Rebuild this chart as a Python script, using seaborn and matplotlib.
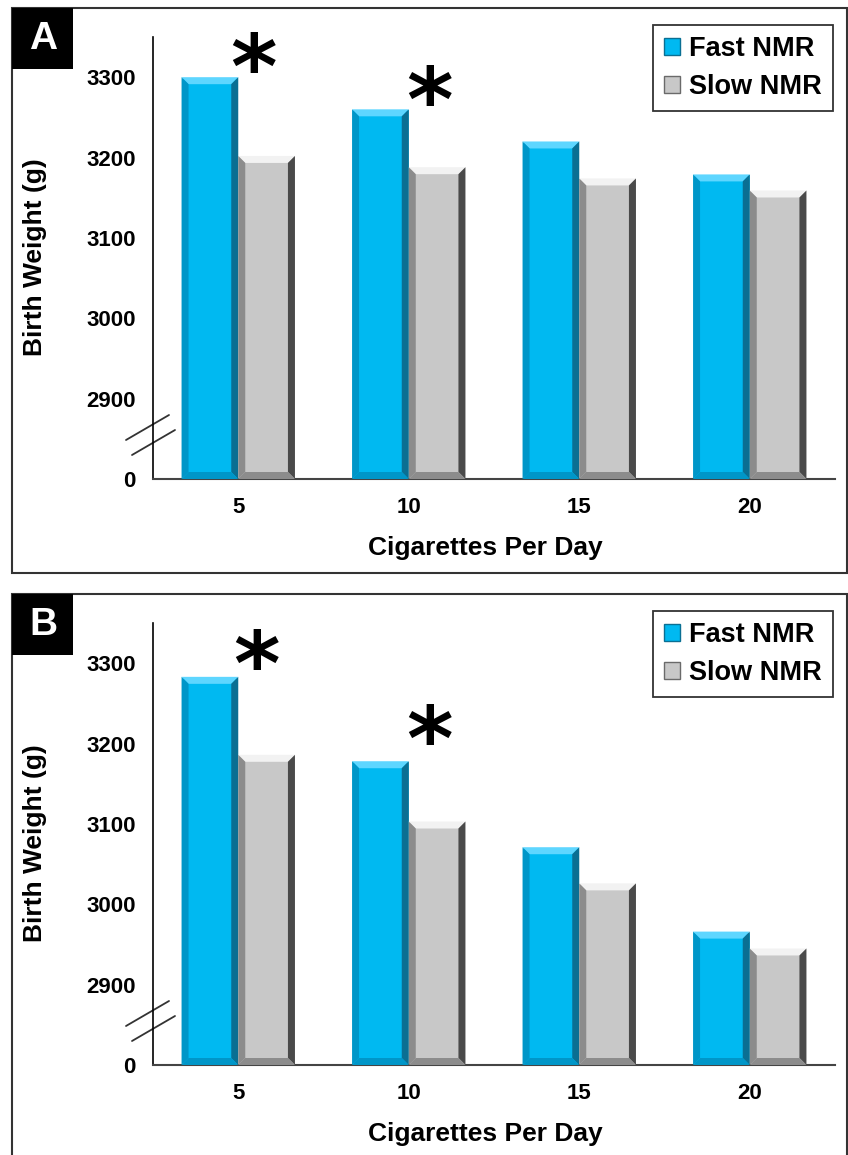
import pandas as pd
import matplotlib.pyplot as plt
import seaborn as sns
from matplotlib.patches import Polygon, Rectangle, Patch

# data (grams)
cigs = ['5', '10', '15', '20']
groups = ['Fast NMR', 'Slow NMR']
fast_a = [3300, 3260, 3220, 3179]
slow_a = [3202, 3188, 3174, 3159]
fast_b = [3283, 3178, 3071, 2966]
slow_b = [3186, 3103, 3026, 2945]
yticks = [2800, 2900, 3000, 3100, 3200, 3300]
ytick_labels = ['0', '2900', '3000', '3100', '3200', '3300']

blue = '#00B9F1'
gray = '#C8C8C8'
light = {blue: '#5ED6FF', gray: '#F2F2F2'}
dark = {blue: '#0A6F93', gray: '#4A4A4A'}
mid = {blue: '#0096C8', gray: '#8C8C8C'}

W, H = 848, 1155
sns.set_style('white')
plt.rcParams['font.family'] = ['Liberation Sans', 'DejaVu Sans']
plt.rcParams['font.weight'] = 'bold'
plt.rcParams['text.color'] = 'black'
plt.rcParams['xtick.color'] = 'black'
plt.rcParams['ytick.color'] = 'black'
plt.rcParams['axes.labelcolor'] = 'black'

fig = plt.figure(figsize=(W / 100, H / 100), dpi=100)


def make_df(fast, slow):
    rows = []
    for c, f, s in zip(cigs, fast, slow):
        rows.append({'cig': c, 'group': groups[0], 'w': f})
        rows.append({'cig': c, 'group': groups[1], 'w': s})
    return pd.DataFrame(rows)


def bevel(ax, b=7):
    # fake the bevelled 3d look of the original bars
    pos = ax.get_position()
    ux = 4.0 / (pos.width * W)
    uy = 550.0 / (pos.height * H)
    bx, by = b * ux, b * uy
    for cont, col in zip(ax.containers, [blue, gray]):
        for p in cont.patches:
            x0, x1 = p.get_x(), p.get_x() + p.get_width()
            y0 = max(p.get_y(), 2800)
            y1 = p.get_y() + p.get_height()
            shapes = [
                ([(x0, y1), (x1, y1), (x1 - bx, y1 - by), (x0 + bx, y1 - by)], light[col]),
                ([(x1, y1), (x1, y0), (x1 - bx, y0 + by), (x1 - bx, y1 - by)], dark[col]),
                ([(x0, y0), (x1, y0), (x1 - bx, y0 + by), (x0 + bx, y0 + by)], mid[col]),
                ([(x0, y0), (x0, y1), (x0 + bx, y1 - by), (x0 + bx, y0 + by)], mid[col]),
            ]
            for pts, c in shapes:
                ax.add_patch(Polygon(pts, closed=True, facecolor=c, edgecolor='none', zorder=3))


def panel(fast, slow, top_px, letter, stars):
    # axes placement in pixels: y axis at x=153, top of axis at top_px
    left, right = 153, 835
    bottom_px = top_px + 442
    ax = fig.add_axes([left / W, 1 - bottom_px / H, (right - left) / W, (bottom_px - top_px) / H])
    df = make_df(fast, slow)
    sns.barplot(data=df, x='cig', y='w', hue='group', order=cigs, hue_order=groups,
                palette=[blue, gray], width=0.665, errorbar=None, saturation=1,
                legend=False, ax=ax, zorder=2)
    ax.set_xlim(-0.5, 3.5)
    ax.set_ylim(2800, 3350)
    ax.set_yticks(yticks)
    ax.set_yticklabels(ytick_labels)
    ax.set_xlabel('')
    ax.set_ylabel('')
    bevel(ax)

    for s in ['top', 'right']:
        ax.spines[s].set_visible(False)
    ax.spines['left'].set_color('black')
    ax.spines['left'].set_linewidth(1.2)
    ax.spines['bottom'].set_color('#444444')
    ax.spines['bottom'].set_linewidth(1.5)
    ax.tick_params(axis='y', direction='inout', length=11, width=1, color='black',
                   labelsize=16, pad=7)
    ax.tick_params(axis='x', length=0, labelsize=16, pad=13)
    for t in ax.get_xticklabels() + ax.get_yticklabels():
        t.set_fontweight('bold')

    # axis break marks
    for dy in [0, 15]:
        x_a, y_a = 126 + dy * 0.4, bottom_px - 39 - dy
        x_b, y_b = 169 + dy * 0.4, bottom_px - 64 - dy
        ax.add_line(plt.Line2D([x_a / W, x_b / W], [1 - (y_a + 2 * dy) / H, 1 - (y_b + 2 * dy) / H],
                               transform=fig.transFigure, color='#333333', lw=1.3, clip_on=False))

    for sx, sy in stars:
        ax.text(sx, sy, '*', fontsize=64, ha='center', va='center', fontweight='bold',
                family='DejaVu Sans', zorder=5)

    handles = [Patch(facecolor=blue, edgecolor='#0A6F93'), Patch(facecolor=gray, edgecolor='#6A6A6A')]
    leg = ax.legend(handles, groups, loc='upper right',
                    bbox_to_anchor=(833 / W, 1 - (top_px - 12) / H),
                    bbox_transform=fig.transFigure, borderaxespad=0, fancybox=False,
                    frameon=True, handlelength=0.6, handleheight=0.6, handletextpad=0.35,
                    prop={'size': 19.5, 'weight': 'bold'}, labelspacing=0.45,
                    borderpad=0.4)
    leg.get_frame().set_edgecolor('black')
    leg.get_frame().set_linewidth(1.3)

    fig.text(35 / W, 1 - (top_px + 220) / H, 'Birth Weight (g)', rotation=90, ha='center',
             va='center', fontsize=19, fontweight='bold')
    fig.text(485 / W, 1 - (top_px + 511) / H, 'Cigarettes Per Day', ha='center',
             va='center', fontsize=19, fontweight='bold')

    # letter box in the corner of the panel
    box_top = top_px - 29
    fig.patches.append(Rectangle((12 / W, 1 - (box_top + 61) / H), 61 / W, 61 / H,
                                 transform=fig.transFigure, facecolor='black', edgecolor='none'))
    fig.text(43 / W, 1 - (box_top + 31) / H, letter, color='white', ha='center', va='center',
             fontsize=28, fontweight='bold')
    return ax


# panel frames
fig.patches.append(Rectangle((12 / W, 1 - 573 / H), 835 / W, 565 / H, transform=fig.transFigure,
                             facecolor='none', edgecolor='#333333', lw=1.5))
fig.patches.append(Rectangle((12 / W, 1 - 1160 / H), 835 / W, 566 / H, transform=fig.transFigure,
                             facecolor='none', edgecolor='#333333', lw=1.5))

panel(fast_a, slow_a, 37, 'A', [(0.09, 3305), (1.12, 3264)])
panel(fast_b, slow_b, 623, 'B', [(0.106, 3291), (1.12, 3198)])

fig.savefig('out.png', dpi=100)
